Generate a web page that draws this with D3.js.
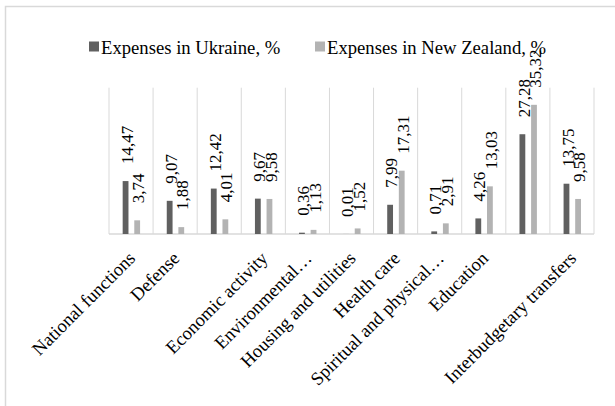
<!DOCTYPE html>
<html>
<head>
<meta charset="utf-8">
<script src="https://cdn.jsdelivr.net/npm/d3@7/dist/d3.min.js"></script>
<style>
  html, body { margin: 0; padding: 0; background: #fff; }
  svg { display: block; }
  text { font-family: "Liberation Serif", "Times New Roman", serif; fill: #000; }
</style>
</head>
<body>
<svg id="chart" width="615" height="406"></svg>
<script>
// Budget expenditure structure by function, %
const categories = [
  "National functions",
  "Defense",
  "",
  "Economic activity",
  "Environmental…",
  "Housing and utilities",
  "Health care",
  "Spiritual and physical…",
  "Education",
  "",
  "Interbudgetary transfers"
];
const seriesNames = ["Expenses in Ukraine, %", "Expenses in New Zealand, %"];
const ukraine = [14.47, 9.07, 12.42, 9.67, 0.36, 0.01, 7.99, 0.71, 4.26, 27.28, 13.75];
const newZealand = [3.74, 1.88, 4.01, 9.58, 1.13, 1.52, 17.31, 2.91, 13.03, 35.32, 9.58];
const yDomain = [0, 40];

const colors = ["#606060", "#b3b3b3"];
const svg = d3.select("#chart");

// chart frame
svg.append("path")
  .attr("d", "M5.5,406 V6.5 H615")
  .attr("fill", "none")
  .attr("stroke", "#d9d9d9")
  .attr("stroke-width", 1.5);

const plot = { left: 109, right: 594, top: 87.7, bottom: 234 };

const x = d3.scaleBand()
  .domain(d3.range(categories.length))
  .range([plot.left, plot.right]);
const bw = x.bandwidth();
const x1 = d3.scaleBand()
  .domain([0, 1])
  .range([bw * 0.31, bw * 0.705])
  .paddingInner(0.5);
const y = d3.scaleLinear().domain(yDomain).range([plot.bottom, plot.top]);

// vertical category gridlines
const bounds = d3.range(categories.length + 1).map(i => plot.left + i * x.step());
svg.append("g").selectAll("line").data(bounds).join("line")
  .attr("x1", d => d).attr("x2", d => d)
  .attr("y1", plot.top).attr("y2", plot.bottom)
  .attr("stroke", "#d9d9d9").attr("stroke-width", 1);

// category axis line
svg.append("line")
  .attr("x1", plot.left).attr("x2", plot.right)
  .attr("y1", plot.bottom).attr("y2", plot.bottom)
  .attr("stroke", "#d9d9d9").attr("stroke-width", 1.5);

const rows = categories.map((c, i) => ({ i, vals: [ukraine[i], newZealand[i]] }));
const fmt = v => d3.format(".2f")(v).replace(".", ",");

const groups = svg.append("g").selectAll("g").data(rows).join("g")
  .attr("transform", d => `translate(${x(d.i)},0)`);

groups.selectAll("rect")
  .data(d => d.vals.map((v, s) => ({ v, s })))
  .join("rect")
  .attr("x", d => x1(d.s))
  .attr("width", x1.bandwidth())
  .attr("y", d => y(d.v))
  .attr("height", d => y(0) - y(d.v))
  .attr("fill", d => colors[d.s]);

// rotated value labels above bars
groups.selectAll("text.val")
  .data(d => d.vals.map((v, s) => ({ v, s })))
  .join("text")
  .attr("class", "val")
  .attr("font-size", 17)
  .attr("text-anchor", "start")
  .attr("dy", "0.33em")
  .attr("transform", d => `translate(${x1(d.s) + x1.bandwidth() / 2 + 1.5},${y(d.v) - 17}) rotate(-90)`)
  .text(d => fmt(d.v));

// category labels at -45 degrees
svg.append("g").selectAll("text").data(categories).join("text")
  .attr("font-size", 18.5)
  .attr("text-anchor", "end")
  .attr("dy", "0.72em")
  .attr("transform", (d, i) => `translate(${x(i) + bw / 2 - 4},${plot.bottom + 16}) rotate(-45)`)
  .text(d => d);

// legend
const legendPos = [89, 315];
const lg = svg.append("g").selectAll("g").data(seriesNames).join("g")
  .attr("transform", (d, i) => `translate(${legendPos[i]},0)`);
lg.append("rect")
  .attr("x", 0).attr("y", 41.5).attr("width", 10).attr("height", 10)
  .attr("fill", (d, i) => colors[i]);
lg.append("text")
  .attr("x", 12).attr("y", 53.5)
  .attr("font-size", 18.67)
  .text(d => d);
</script>
</body>
</html>
